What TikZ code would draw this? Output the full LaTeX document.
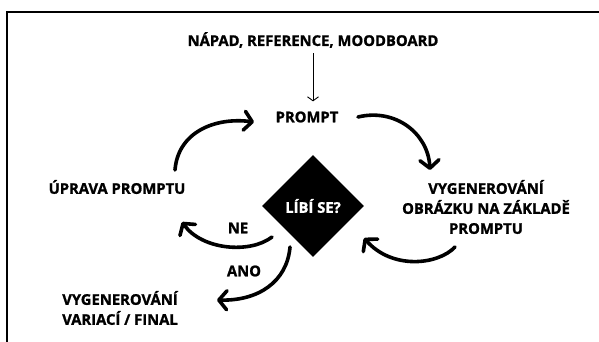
\documentclass[tikz,border=0pt]{standalone}
\usepackage{fontspec}
\setmainfont{Open Sans}[BoldFeatures={FakeBold=1.2}]
\usetikzlibrary{arrows.meta,shapes.geometric}

\tikzset{
  lbl/.style={font=\bfseries\fontsize{14.8}{20}\selectfont, inner sep=1pt, align=center},
  flow/.style={line width=3.6pt, line cap=round, -{Straight Barb[length=8pt,width=19pt,line cap=round,line join=round]}},
  feed/.style={line width=0.9pt, -{Straight Barb[length=4pt,width=11pt]}},
  decision/.style={diamond, fill=black, text=white, minimum width=102pt, minimum height=102pt, inner sep=0pt,
                   font=\bfseries\fontsize{14.8}{20}\selectfont},
}

\begin{document}
\begin{tikzpicture}[x=1pt,y=-1pt]
  \useasboundingbox (0,0) rectangle (599,342);
  \fill[white] (0,0) rectangle (599,342);

  % frame on the top and left edges
  \draw[line width=2.2pt] (7,345) -- (7,12) -- (602,12);

  % text blocks
  \node[lbl] (idea)   at (313,40)  {NÁPAD, REFERENCE, MOODBOARD};
  \node[lbl] (prompt) at (307,117) {PROMPT};
  \node[lbl] (gen)    at (486,207) {VYGENEROVÁNÍ\\OBRÁZKU NA ZÁKLADĚ\\PROMPTU};
  \node[lbl] (edit)   at (117,187) {ÚPRAVA PROMPTU};
  \node[decision] (like) at (313,206) {LÍBÍ SE?};
  \node[lbl] (no)     at (238,228) {NE};
  \node[lbl] (yes)    at (244,271) {ANO};
  \node[lbl] (final)  at (120,308) {VYGENEROVÁNÍ\\VARIACÍ / FINAL};

  % input feeding the prompt
  \draw[feed] ([yshift=-4pt]idea.south -| like.north) -- ([yshift=9pt]prompt.north -| like.north);

  % ends of the loop arrows
  \coordinate (p-out)  at (358,117);
  \coordinate (g-in)   at (430,170);
  \coordinate (g-out)  at (455,247);
  \coordinate (l-in)   at (364,238);
  \coordinate (no-out) at (272,237);
  \coordinate (e-in)   at (182,222);
  \coordinate (yes-out) at (290,247);
  \coordinate (f-in)   at (217,300);
  \coordinate (e-out)  at (175,170);
  \coordinate (p-in)   at (254,122);

  % loop
  \draw[flow] (p-out) .. controls (395,108) and (428,133) .. (g-in);
  \draw[flow] (g-out) .. controls (438,265) and (392,270) .. (l-in);
  \draw[flow] (no-out) .. controls (250,254) and (202,250) .. (e-in);
  \draw[flow] (yes-out) .. controls (287,282) and (258,301) .. (f-in);
  \draw[flow] (e-out) .. controls (178,132) and (215,117) .. (p-in);
\end{tikzpicture}
\end{document}
